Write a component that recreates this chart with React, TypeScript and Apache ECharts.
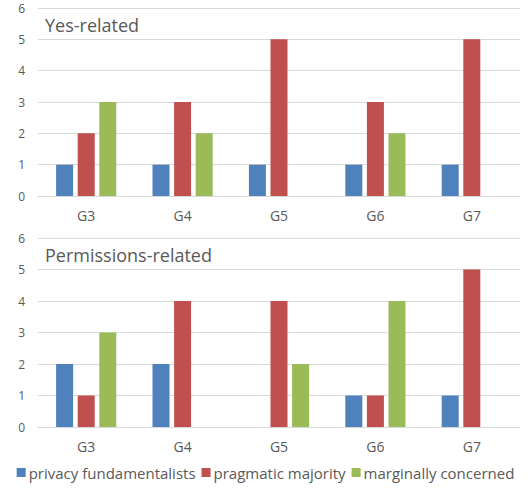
import React, { useEffect, useRef } from "react";
import * as echarts from "echarts";

const groups = ["G3", "G4", "G5", "G6", "G7"];
const seriesNames = ["privacy fundamentalists", "pragmatic majority", "marginally concerned"];
const colors = ["#4F81BD", "#C0504D", "#9BBB59"];

// Yes-related panel
const yesFundamentalists = [1, 1, 1, 1, 1];
const yesPragmatic = [2, 3, 5, 3, 5];
const yesMarginal = [3, 2, 0, 2, 0];

// Permissions-related panel
const permFundamentalists = [2, 2, 0, 1, 1];
const permPragmatic = [1, 4, 4, 1, 5];
const permMarginal = [3, 0, 2, 4, 0];

const panelTitles = ["Yes-related", "Permissions-related"];
const yTicks = [0, 1, 2, 3, 4, 5, 6];

const FONT = "'Open Sans', 'Noto Sans', sans-serif";
const TEXT = "#595959";

export default function App() {
  const ref = useRef<HTMLDivElement>(null);

  useEffect(() => {
    if (!ref.current) return;
    const chart = echarts.init(ref.current, undefined, { renderer: "svg" });

    const grids = [
      { left: 38, right: 11, top: 8, height: 188 },
      { left: 38, right: 11, top: 238, height: 189 },
    ];

    const xAxes = grids.map((_, i) => ({
      type: "category" as const,
      gridIndex: i,
      data: groups,
      axisLine: { show: true, lineStyle: { color: "#D9D9D9", width: 1 } },
      axisTick: { show: false },
      axisLabel: { color: TEXT, fontSize: 14, fontFamily: FONT, margin: 12 },
    }));

    const yAxes = grids.map((_, i) => ({
      type: "value" as const,
      gridIndex: i,
      min: yTicks[0],
      max: yTicks[yTicks.length - 1],
      interval: 1,
      axisLine: { show: false },
      axisTick: { show: false },
      axisLabel: { color: TEXT, fontSize: 12, fontFamily: FONT, margin: 13 },
      splitLine: { lineStyle: { color: "#D9D9D9", width: 1 } },
    }));

    const panels = [
      [yesFundamentalists, yesPragmatic, yesMarginal],
      [permFundamentalists, permPragmatic, permMarginal],
    ];

    const series: any[] = [];
    panels.forEach((sets, p) => {
      sets.forEach((vals, s) => {
        series.push({
          type: "bar",
          name: seriesNames[s],
          xAxisIndex: p,
          yAxisIndex: p,
          data: vals,
          barWidth: 17,
          barGap: "27%",
          itemStyle: { color: colors[s] },
        });
      });
    });

    chart.setOption({
      animation: false,
      backgroundColor: "#ffffff",
      grid: grids,
      xAxis: xAxes,
      yAxis: yAxes,
      title: panelTitles.map((t, i) => ({
        text: t,
        left: 40,
        top: i === 0 ? 11 : 241,
        textStyle: { color: TEXT, fontSize: 18, fontWeight: "normal", fontFamily: FONT },
      })),
      legend: {
        data: seriesNames,
        bottom: 3,
        left: "center",
        itemWidth: 9,
        itemHeight: 9,
        itemGap: 6,
        icon: "rect",
        textStyle: { color: TEXT, fontSize: 15, fontFamily: FONT, padding: [0, 0, 0, -2] },
      },
      series,
    });

    return () => chart.dispose();
  }, []);

  return (
    <div
      ref={ref}
      style={{ position: "fixed", left: 0, top: 0, width: 531, height: 488, background: "#fff" }}
    />
  );
}
